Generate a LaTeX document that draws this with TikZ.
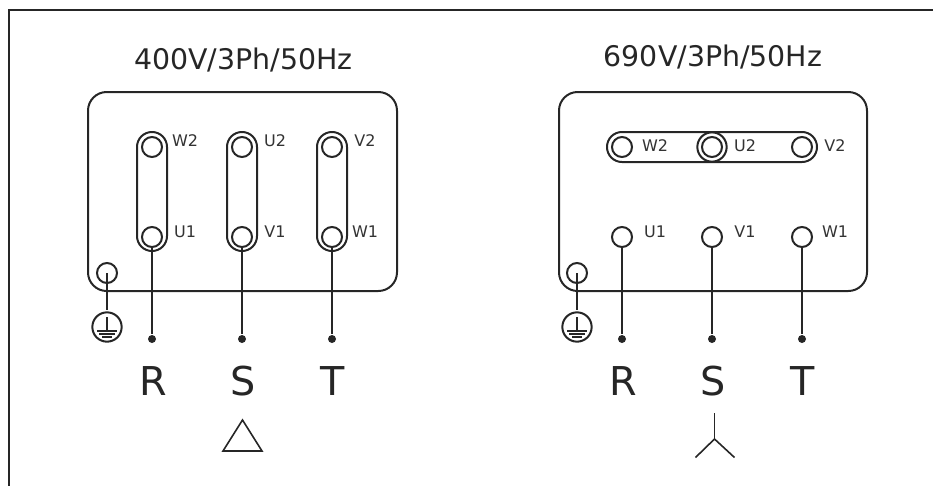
\documentclass[tikz,border=0pt]{standalone}
\usepackage{fontspec}
\setmainfont{DejaVu Sans}
\usepgflibrary{arrows.meta}
\usepackage{xcolor}

\tikzset{
  term/.style={circle,draw,line width=1.5pt,fill=white,inner sep=0pt,minimum size=15pt},
  earth/.style={circle,draw,line width=1.5pt,inner sep=0pt,minimum size=22pt},
  tip/.style={circle,fill=black!85,inner sep=0pt,minimum size=6pt},
  plate/.style={line width=1.5pt,rounded corners=14pt},
  link/.style={line width=1.5pt,rounded corners=11.2pt},
  tag/.style={font=\fontsize{12}{14}\selectfont,text=black!80},
  volt/.style={font=\fontsize{21.3}{24}\selectfont,text=black!85},
  phase/.style={font=\fontsize{29.8}{32}\selectfont,text=black!85},
}

\begin{document}
\begin{tikzpicture}[x=0.75pt,y=-0.75pt,line width=1.5pt,black!85]
\useasboundingbox (0,0) rectangle (933,486);
\draw[line width=2pt] (9,490) -- (9,10) -- (937,10);

% delta side
\node[volt] (voltd) at (243.5,60) {400V/3Ph/50Hz};
\draw[plate] (88,92) rectangle (397,291);
\foreach \x/\up/\lo/\wire/\n in {152/W2/U1/R/a,242/U2/V1/S/b,332/V2/W1/T/c}{
  \draw[link] (\x-15,132) rectangle (\x+15,251);
  \node[term] (up\n) at (\x,147) {};
  \node[term] (lo\n) at (\x,237) {};
  \node[tag] at (\x+33,141) {\up};
  \node[tag] at (\x+33,232) {\lo};
  \node[tip] (tip\n) at (\x,339) {};
  \node[phase] at (\x+1,381) {\wire};
  \draw (lo\n) -- (tip\n);
}
\node[term] (pe) at (107,273) {};
\node[earth] (gnd) at (107,327) {};
\draw (pe.center) -- (107,310);
\draw (107,317) -- (107,331);
\draw (97,331) -- (117,331);
\draw[line width=1pt] (99,334) -- (115,334);
\draw[line width=1pt] (102,337) -- (112,337);
\draw[line width=1.2pt] (242.5,420) -- (223,451) -- (262,451) -- cycle;

% star side
\node[volt] (volts) at (713,57) {690V/3Ph/50Hz};
\draw[plate] (559,92) rectangle (867,291);
\draw[link] (607,132) rectangle (817,162);
\foreach \x/\up/\lo/\wire/\n in {622/W2/U1/R/d,712/U2/V1/S/e,802/V2/W1/T/f}{
  \node[term] (up\n) at (\x,147) {};
  \node[term] (lo\n) at (\x,237) {};
  \node[tag] at (\x+33,146) {\up};
  \node[tag] at (\x+33,232) {\lo};
  \node[tip] (tip\n) at (\x,339) {};
  \node[phase] at (\x+1,381) {\wire};
  \draw (lo\n) -- (tip\n);
}
\node[earth] (ring) at (712,147) {};
\node[term] (pes) at (577,273) {};
\node[earth] (gnds) at (577,327) {};
\draw (pes.center) -- (577,310);
\draw (577,317) -- (577,331);
\draw (567,331) -- (587,331);
\draw[line width=1pt] (569,334) -- (585,334);
\draw[line width=1pt] (572,337) -- (582,337);
\draw[line width=1.2pt] (714.5,413) -- (714.5,439);
\draw[line width=1.2pt] (695.5,457.5) -- (714.5,439) -- (734.5,457.5);
\end{tikzpicture}
\end{document}
